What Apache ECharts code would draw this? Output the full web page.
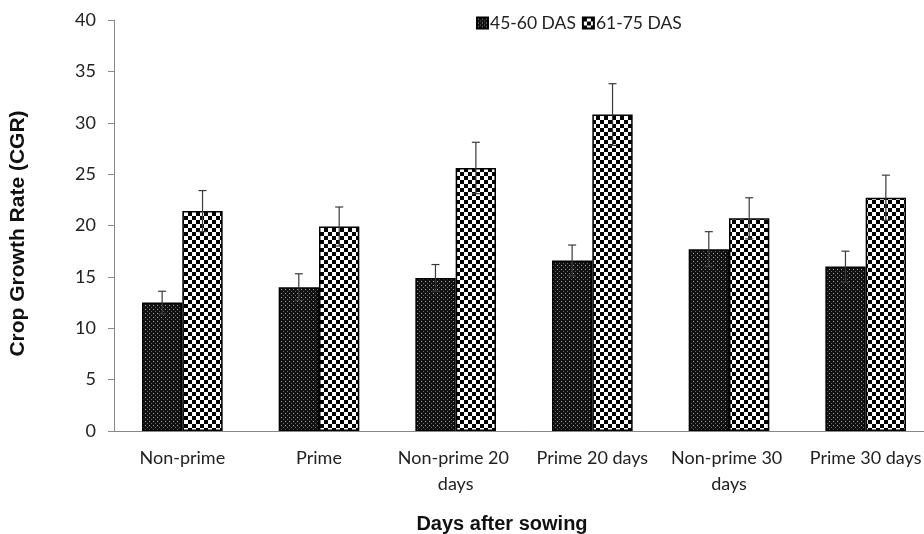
<!DOCTYPE html>
<html>
<head>
<meta charset="utf-8">
<script src="https://cdn.jsdelivr.net/npm/echarts@6/dist/echarts.min.js"></script>
<style>
  html, body { margin: 0; padding: 0; background: #fff; overflow: hidden; }
  /* 原图右侧被裁掉一点，故画布比窗口略宽 */
  #main { width: 934px; height: 534px; }
</style>
</head>
<body>
<div id="main"></div>
<script>
// 数据
const categories = ['Non-prime', 'Prime', 'Non-prime 20 days', 'Prime 20 days', 'Non-prime 30 days', 'Prime 30 days'];
const seriesNames = ['45-60 DAS', '61-75 DAS'];
const cgr4560 = [12.5, 14.0, 14.9, 16.6, 17.7, 16.0];
const cgr6175 = [21.4, 19.9, 25.6, 30.8, 20.7, 22.7];
const err4560 = [1.1, 1.3, 1.3, 1.5, 1.7, 1.5];
const err6175 = [2.0, 1.9, 2.5, 3.0, 2.0, 2.2];
const yTicks = { min: 0, max: 40, interval: 5 };

// 图案填充
function dotPattern() {
  const c = document.createElement('canvas');
  c.width = 4; c.height = 4;
  const ctx = c.getContext('2d');
  ctx.fillStyle = '#111';
  ctx.fillRect(0, 0, 4, 4);
  ctx.fillStyle = '#aaa';
  ctx.fillRect(1, 1, 1, 1);
  ctx.fillStyle = '#666';
  ctx.fillRect(3, 3, 1, 1);
  return c;
}
function checkerPattern() {
  const c = document.createElement('canvas');
  c.width = 8; c.height = 8;
  const ctx = c.getContext('2d');
  ctx.fillStyle = '#fff';
  ctx.fillRect(0, 0, 8, 8);
  ctx.fillStyle = '#000';
  ctx.fillRect(0, 0, 4, 4);
  ctx.fillRect(4, 4, 4, 4);
  return c;
}
const darkFill = { image: dotPattern(), repeat: 'repeat' };
const checkFill = { image: checkerPattern(), repeat: 'repeat' };

const font = 'Lato';
const barShare = 0.2956; // 单个柱子占类目宽度比例

function errorSeries(values, errs, side) {
  return {
    type: 'custom',
    silent: true,
    z: 5,
    data: values.map((v, i) => [i, v, errs[i]]),
    renderItem: function (params, api) {
      const i = api.value(0);
      const v = api.value(1);
      const e = api.value(2);
      const bandW = api.size([1, 0])[0];
      const base = api.coord([i, v]);
      const x = base[0] + side * bandW * barShare / 2;
      const top = api.coord([i, v + e])[1];
      const bot = api.coord([i, v - e])[1];
      const cap = 4;
      const style = { stroke: '#3a3a3a', lineWidth: 1.2 };
      return {
        type: 'group',
        children: [
          { type: 'line', shape: { x1: x, y1: top, x2: x, y2: bot }, style: style },
          { type: 'line', shape: { x1: x - cap, y1: top, x2: x + cap, y2: top }, style: style },
          { type: 'line', shape: { x1: x - cap, y1: bot, x2: x + cap, y2: bot }, style: style }
        ]
      };
    }
  };
}

const myChart = echarts.init(document.getElementById('main'));
myChart.setOption({
  animation: false,
  backgroundColor: '#fff',
  legend: {
    data: seriesNames,
    top: 9,
    left: 471,
    itemWidth: 11,
    itemHeight: 11,
    itemGap: 6,
    icon: 'rect',
    textStyle: { fontFamily: font, fontSize: 17.5, color: '#222', padding: [0, 0, 0, -3] }
  },
  grid: { left: 114, right: 0, top: 20, bottom: 103, outerBoundsMode: 'none' },
  xAxis: {
    type: 'category',
    data: categories,
    name: 'Days after sowing',
    nameLocation: 'middle',
    nameGap: 83,
    nameTextStyle: { fontFamily: 'Liberation Sans', fontWeight: 'bold', fontSize: 20, color: '#111', padding: [0, 44, 0, 0] },
    axisLine: { lineStyle: { color: '#888', width: 1 } },
    axisTick: { length: 6, lineStyle: { color: '#888' } },
    axisLabel: {
      fontFamily: font, fontSize: 18, color: '#222',
      margin: 14, lineHeight: 26, width: 132, overflow: 'break', interval: 0
    }
  },
  yAxis: {
    type: 'value',
    min: yTicks.min,
    max: yTicks.max,
    interval: yTicks.interval,
    name: 'Crop Growth Rate (CGR)',
    nameLocation: 'middle',
    nameRotate: 90,
    nameGap: 85,
    nameTextStyle: { fontFamily: 'Liberation Sans', fontWeight: 'bold', fontSize: 21, color: '#111', padding: [0, 16, 0, 0] },
    splitLine: { show: false },
    axisLine: { show: true, lineStyle: { color: '#888', width: 1 } },
    axisTick: { show: true, length: 6, lineStyle: { color: '#888' } },
    axisLabel: { fontFamily: font, fontSize: 18, color: '#222', margin: 18 }
  },
  series: [
    {
      name: seriesNames[0],
      type: 'bar',
      data: cgr4560,
      barGap: '0%',
      barCategoryGap: '41%',
      itemStyle: { color: darkFill, borderColor: '#000', borderWidth: 1.5 }
    },
    {
      name: seriesNames[1],
      type: 'bar',
      data: cgr6175,
      barGap: '0%',
      barCategoryGap: '41%',
      itemStyle: { color: checkFill, borderColor: '#000', borderWidth: 1.5 }
    },
    errorSeries(cgr4560, err4560, -1),
    errorSeries(cgr6175, err6175, 1)
  ]
});
</script>
</body>
</html>
